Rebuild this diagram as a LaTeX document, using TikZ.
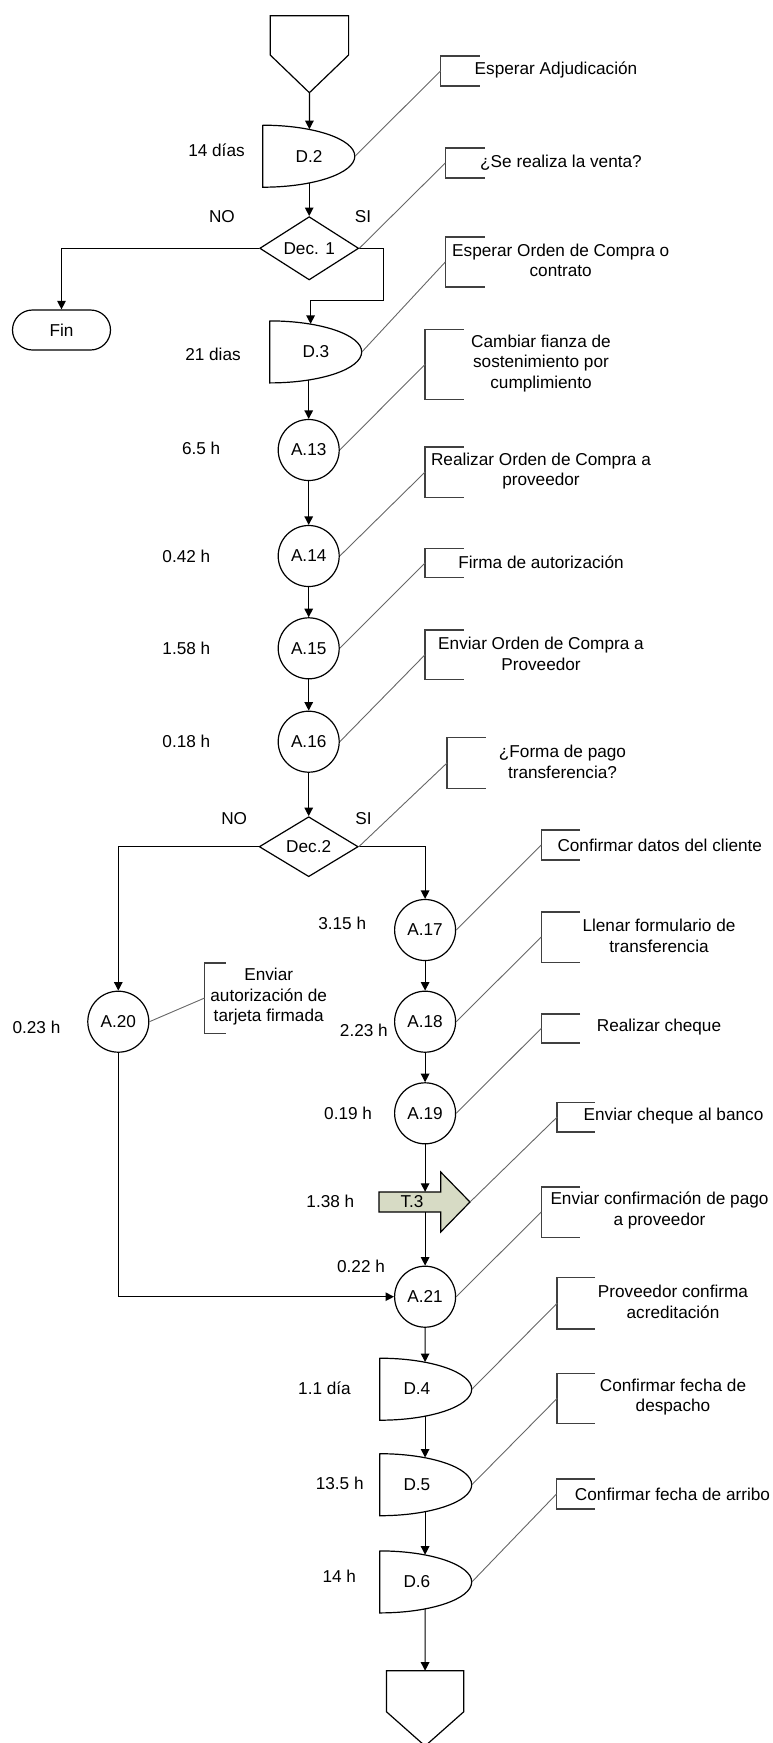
\documentclass[tikz,border=0pt]{standalone}
\usepackage{fontspec}
\setmainfont{Liberation Sans}
\usetikzlibrary{arrows.meta,shapes.geometric,calc}
\definecolor{tfill}{RGB}{215,219,197}
\newcommand\mybkt[5]{\coordinate (#1) at (#2,{(#3+#4)/2});
  \draw[brk] (#5,#3) -- (#2,#3) -- (#2,#4) -- (#5,#4);}
\newcommand\mydelay[1]{\draw[ln] (#1.north west) -- (#1.south west)
  arc[start angle=-90,end angle=90,x radius=92pt,y radius=31pt] -- cycle;}
\begin{document}
\begin{tikzpicture}[x=1pt,y=-1pt,
  every node/.style={font=\fontsize{17.2}{20.6}\selectfont},
  ln/.style={line width=1.2pt, draw=black},
  arr/.style={ln, -{Triangle[length=8.5pt,width=8.5pt]}},
  act/.style={circle, draw, line width=1.2pt, minimum size=61pt, inner sep=0pt},
  dec/.style={diamond, draw, line width=1.2pt, minimum width=99pt, minimum height=60pt, inner sep=0pt},
  dly/.style={rectangle, minimum width=92pt, minimum height=62pt, inner sep=0pt, anchor=west},
  brk/.style={line width=1.6pt, draw=black!75},
  call/.style={line width=0.9pt, draw=black!60},
  note/.style={align=center, inner sep=0pt},
  tm/.style={inner sep=0pt}]
\useasboundingbox (0,0) rectangle (773,1743);

% ---------- start connector
\coordinate (start) at (309.4,92.7);
\draw[ln] (270.2,15.7) -- (348.6,15.7) -- (348.6,55) -- (start) -- (270.2,55) -- cycle;

% ---------- nodes
\node[dly] (d2) at (262.8,156) {D.2};
\node[dec] (dec1) at (309.2,248.3) {Dec. 1};
\node[draw, line width=1.2pt, rounded corners=20pt, minimum width=98pt, minimum height=40pt] (fin) at (61.5,330) {Fin};
\coordinate (si1) at (383.6,300.7);
\node[dly] (d3) at (269.7,351.7) {D.3};
\node[act] (a13) at (308.7,450) {A.13};
\node[act] (a14) at (308.7,556) {A.14};
\node[act] (a15) at (308.7,648.3) {A.15};
\node[act] (a16) at (308.7,741.7) {A.16};
\node[dec] (dec2) at (308.7,846.7) {Dec.2};
\node[act] (a17) at (425.1,930) {A.17};
\node[act] (a18) at (425.1,1021.7) {A.18};
\node[act] (a19) at (425.1,1113.3) {A.19};
\node[act] (a20) at (118.3,1021.7) {A.20};
\filldraw[ln, fill=tfill] (379,1192) -- (440.7,1192) -- (440.7,1172) -- (470,1202)
  -- (440.7,1232) -- (440.7,1212) -- (379,1212) -- cycle;
\coordinate (t3tip) at (470,1202);
\node[rectangle, minimum width=61.7pt, minimum height=20pt, inner sep=0pt] (t3) at (412,1202) {T.3};
\node[act] (a21) at (425.1,1296.7) {A.21};
\node[dly] (d4) at (379.7,1389) {D.4\hspace*{18pt}};
\node[dly] (d5) at (379.7,1484.5) {D.5\hspace*{18pt}};
\node[dly] (d6) at (379.7,1581.7) {D.6\hspace*{18pt}};
\coordinate (end) at (425.1,1670.7);
\draw[ln] (386.4,1670.7) -- (end) -- (463.8,1670.7) -- (463.8,1711.7) -- (425.1,1746) -- (386.4,1711.7) -- cycle;

\mydelay{d2}
\mydelay{d3}
\mydelay{d4}
\mydelay{d5}
\mydelay{d6}

% ---------- flow connectors
\draw[arr] (start) -- ($(d2.west)+(46.6,-26.8)$);
\draw[arr] ($(d2.west)+(46.4,26.8)$) -- (dec1.north);
\draw[arr] (dec1.west) -| (fin.north);
\draw[arr] (dec1.east) -| (si1) -| ($(d3.west)+(40.9,-27.8)$);
\draw[arr] ($(d3.west)+(39,28.1)$) -- (a13.north);
\draw[arr] (a13) -- (a14);
\draw[arr] (a14) -- (a15);
\draw[arr] (a15) -- (a16);
\draw[arr] (a16) -- (dec2);
\draw[arr] (dec2.west) -| (a20.north);
\draw[arr] (dec2.east) -| (a17.north);
\draw[arr] (a17) -- (a18);
\draw[arr] (a18) -- (a19);
\draw[arr] (a19.south) -- (a19.south |- t3.north);
\draw[arr] (a21.north |- t3.south) -- (a21.north);
\draw[arr] (a20.south) |- (a21.west);
\draw[arr] (a21.south) -- ($(d4.west)+(45.4,-27)$);
\draw[arr] ($(d4.west)+(45.4,27)$) -- ($(d5.west)+(45.4,-27)$);
\draw[arr] ($(d5.west)+(45.4,27)$) -- ($(d6.west)+(45.4,-27)$);
\draw[arr] ($(d6.west)+(45.4,27)$) -- (end);

% ---------- brackets
\mybkt{b1}{440.5}{56}{86}{479.5}
\mybkt{b2}{445.3}{148}{178}{484.7}
\mybkt{b3}{445.3}{237}{287}{484.7}
\mybkt{b4}{425.1}{329.3}{399.3}{463.5}
\mybkt{b5}{425.1}{446.7}{497.3}{463.5}
\mybkt{b6}{425.1}{548.3}{577.3}{463.5}
\mybkt{b7}{425.1}{630}{679.3}{463.5}
\mybkt{b8}{447.2}{737.3}{788.3}{485.7}
\mybkt{b9}{541.3}{830}{860}{580}
\mybkt{b10}{541.3}{911.7}{962.3}{580}
\mybkt{b11}{541.3}{1014}{1042.7}{580}
\mybkt{b12}{557.2}{1102.3}{1131.7}{595.2}
\mybkt{b13}{541.3}{1186.7}{1237.3}{580}
\mybkt{b14}{557.2}{1277.3}{1329}{595.2}
\mybkt{b15}{557.2}{1373.3}{1423.3}{595.2}
\mybkt{b16}{556.5}{1479}{1509}{595}
\mybkt{b17}{204.6}{962.7}{1033.3}{225.8}

% ---------- callout lines
\draw[call] (d2.east) -- (b1);
\draw[call] (dec1.east) -- (b2);
\draw[call] (d3.east) -- (b3);
\draw[call] (a13.east) -- (b4);
\draw[call] (a14.east) -- (b5);
\draw[call] (a15.east) -- (b6);
\draw[call] (a16.east) -- (b7);
\draw[call] (dec2.east) -- (b8);
\draw[call] (a17.east) -- (b9);
\draw[call] (a18.east) -- (b10);
\draw[call] (a19.east) -- (b11);
\draw[call] (t3tip) -- (b12);
\draw[call] (a21.east) -- (b13);
\draw[call] (d4.east) -- (b14);
\draw[call] (d5.east) -- (b15);
\draw[call] (d6.east) -- (b16);
\draw[call] (a20.east) -- (b17);

% ---------- note texts
\node[note] (n1) at (556,70) {Esperar Adjudicación};
\node[note] (n2) at (561,163) {¿Se realiza la venta?};
\node[note] (n3) at (560.7,260.3) {Esperar Orden de Compra o\\contrato};
\node[note] (n4) at (541,363.3) {Cambiar fianza de\\sostenimiento por\\cumplimiento};
\node[note] (n5) at (541,471.2) {Realizar Orden de Compra a\\proveedor};
\node[note] (n6) at (541,562.7) {Firma de autorización};
\node[note] (n7) at (541,654) {Enviar Orden de Compra a\\Proveedor};
\node[note] (n8) at (562.5,761.7) {¿Forma de pago\\transferencia?};
\node[note] (n9) at (659.8,845) {Confirmar datos del cliente};
\node[note] (n10) at (659,936) {Llenar formulario de\\transferencia};
\node[note] (n11) at (659,1027.3) {Realizar cheque};
\node[note] (n12) at (673.5,1116) {Enviar cheque al banco};
\node[note] (n13) at (659.5,1210.7) {Enviar confirmación de pago\\a proveedor};
\node[note] (n14) at (673,1302) {Proveedor confirma\\acreditación};
\node[note] (n15) at (673,1397) {Confirmar fecha de\\despacho};
\node[note] (n16) at (672.5,1494) {Confirmar fecha de arribo};
\node[note] (n17) at (268.7,996.7) {Enviar\\autorización de\\tarjeta firmada};

% ---------- times and branch labels
\node[tm] (l1) at (216.5,150) {14 días};
\node[tm] (l2) at (213,354) {21 dias};
\node[tm] (l3) at (201.2,448) {6.5 h};
\node[tm] (l4) at (186.4,556) {0.42 h};
\node[tm] (l5) at (186.4,648) {1.58 h};
\node[tm] (l6) at (186.4,741) {0.18 h};
\node[tm] (l7) at (342.2,923) {3.15 h};
\node[tm] (l8) at (363.9,1030) {2.23 h};
\node[tm] (l9) at (348.1,1113) {0.19 h};
\node[tm] (l10) at (36.5,1027) {0.23 h};
\node[tm] (l11) at (330.4,1201) {1.38 h};
\node[tm] (l12) at (361,1266) {0.22 h};
\node[tm] (l13) at (324.5,1388) {1.1 día};
\node[tm] (l14) at (339.7,1483) {13.5 h};
\node[tm] (l15) at (339.3,1576) {14 h};
\node[tm] (no1) at (221.9,217) {NO};
\node[tm] (si1l) at (362.9,217) {SI};
\node[tm] (no2) at (234.2,819) {NO};
\node[tm] (si2l) at (363.4,819) {SI};
\end{tikzpicture}
\end{document}
